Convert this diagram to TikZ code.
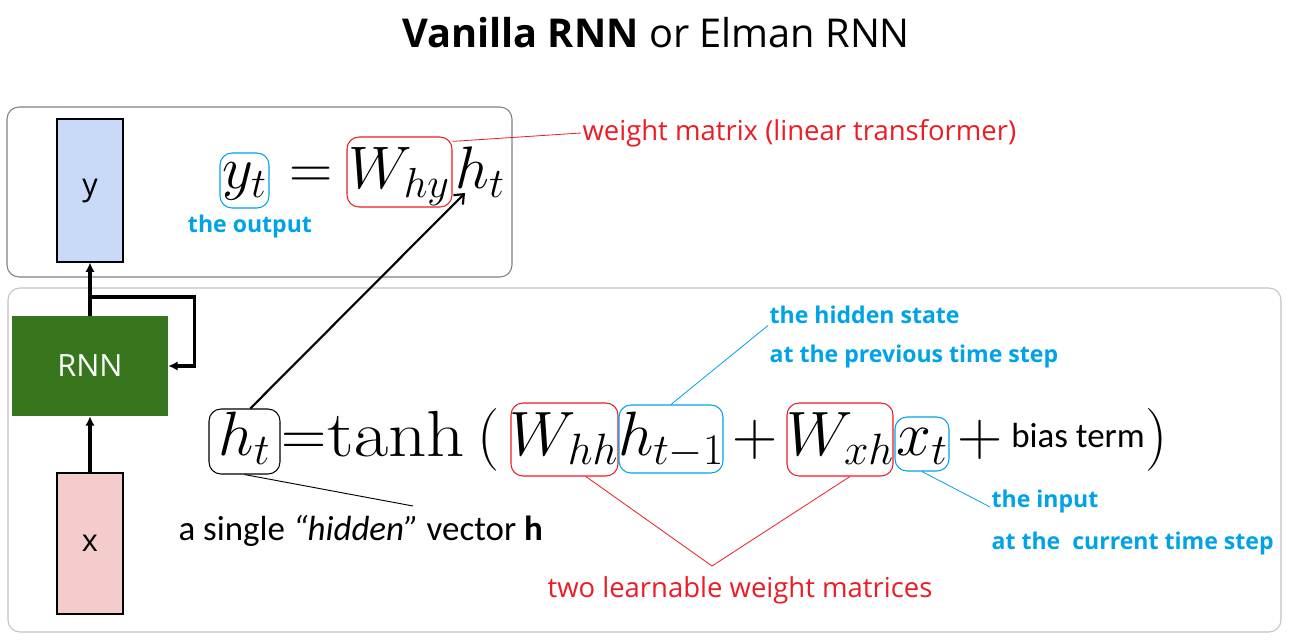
\RequirePackage{fix-cm}
\documentclass[tikz,border=0pt]{standalone}
\usepackage[no-math]{fontspec}
\setmainfont{Open Sans}
\newfontfamily\calib{Carlito}
\usetikzlibrary{fit,arrows.meta}
\definecolor{cblue}{RGB}{0,162,232}
\definecolor{cred}{RGB}{237,28,36}
\definecolor{rnngreen}{RGB}{56,118,29}
\definecolor{yfill}{RGB}{201,218,248}
\definecolor{xfill}{RGB}{244,204,204}
\definecolor{paneldark}{RGB}{128,128,128}
\definecolor{panellight}{RGB}{195,195,195}
\begin{document}
\begin{tikzpicture}[x=0.75pt,y=-0.75pt,
  panel/.style={inner sep=0pt, rounded corners=9pt, line width=0.8pt},
  block/.style={inner sep=0pt},
  blocklab/.style={inner sep=0pt, font=\fontsize{23}{27}\selectfont},
  hbox/.style={inner sep=0pt, rounded corners=9pt, line width=0.8pt},
  mtop/.style={inner sep=0pt, anchor=base, font=\fontsize{45}{54}\selectfont},
  mbot/.style={inner sep=0pt, anchor=base, font=\fontsize{47}{56}\selectfont},
  bluelab/.style={inner sep=1pt, text=cblue, font=\fontsize{17.3}{20}\selectfont\bfseries},
  redlab/.style={inner sep=1pt, text=cred, font=\fontsize{20.6}{24}\selectfont},
  thickarrow/.style={line width=2.3pt, -{Latex[length=7pt,width=7pt]}},
  redline/.style={draw=cred, line width=0.6pt},
  blueline/.style={draw=cblue, line width=0.6pt},
  blackline/.style={draw=black, line width=0.7pt}]
\useasboundingbox (0,0) rectangle (1289,640);
\fill[white] (0,0) rectangle (1289,640);

% title
\node[font=\fontsize{29.8}{34}\selectfont] (title) at (656,33) {\textbf{Vanilla RNN} or Elman RNN};

% panels
\node[panel, draw=paneldark, fit={(7,107) (512,277)}] (toppanel) {};
\node[panel, draw=panellight, fit={(8,288) (1281,632)}] (botpanel) {};

% blocks
\node[block, draw=black, line width=0.8pt, fill=yfill, fit={(57,119) (123,262)}] (ybox) {};
\node[block, fill=rnngreen, fit={(12,316) (168,416)}] (rnn) {};
\node[block, draw=black, line width=0.8pt, fill=xfill, fit={(57,473) (123,614)}] (xbox) {};
\node[blocklab] (ylab) at (ybox.center) {y};
\node[blocklab, text=white] (rnnlab) at (rnn.center) {RNN};
\node[blocklab] (xlab) at (xbox.center) {x};

\draw[thickarrow] (xbox.north) -- (rnn.south);
\draw[thickarrow] (rnn.north) -- (ybox.south);
\coordinate (branch) at (90,297);
\draw[thickarrow] (branch) -- ++(104.5,0) |- (rnn.east);

% top equation
\node[hbox, draw=cblue, fit={(220,153) (269,208)}] (Byt) {};
\node[hbox, draw=cred, fit={(347,137) (452,207)}] (Bhy) {};
\node[mtop] (yt) at (244.5,188) {$y_t$};
\node[mtop] (eqtop) at (311,188) {$=$};
\node[mtop] (Why) at (399,188) {$W_{hy}$};
\node[mtop, anchor=base west] (httop) at (455,188) {$h_t$};
\node[bluelab] (out) at (250,227) {the output};
\node[redlab, anchor=west] (wm) at (581,133) {weight matrix (linear transformer)};
\draw[redline] (Bhy.30) -- (wm.west);

% bottom equation
\node[hbox, draw=black, fit={(209,409) (280,474)}] (Bht) {};
\node[hbox, draw=cred, fit={(511,403) (618,476)}] (Bhh) {};
\node[hbox, draw=cblue, fit={(619,405) (723,473)}] (Bhm1) {};
\node[hbox, draw=cred, fit={(787,403) (893,476)}] (Bxh) {};
\node[hbox, draw=cblue, fit={(895,417) (949,471)}] (Bxt) {};

\node[mbot] (ht) at (244.5,455) {$h_t$};
\node[mbot] (eqbot) at (304,455) {$=$};
\node[mbot, anchor=base west] (tanh) at (327,456) {\scalebox{1.2}[1.04]{$\tanh$}};
\node[mbot] (lpar) at (489,455) {$($};
\node[mbot] (Whh) at (564,455) {$W_{hh}$};
\node[mbot] (hm1) at (671,455) {$h_{t-1}$};
\node[mbot] (plusA) at (755,455) {$+$};
\node[mbot] (Wxh) at (840,455) {$W_{xh}$};
\node[mbot] (xt) at (922,455) {$x_t$};
\node[mbot] (plusB) at (980,455) {$+$};
\node[inner sep=0pt, anchor=base west, font=\calib\fontsize{26.2}{30}\selectfont] (bias) at (1011,447) {bias term};
\node[mbot] (rpar) at (1157,455) {$)$};

% diagonal arrow
\coordinate (tip) at (465,193);
\draw[line width=1.6pt, -{Straight Barb[length=6pt,width=10pt]}] (Bht.80) -- (tip);

% annotations bottom
\node[inner sep=1pt, anchor=west, font=\calib\fontsize{26.2}{30}\selectfont] (hv) at (177,531) {a single \textit{“hidden”} vector \textbf{h}};
\coordinate (hvend) at (413,506);
\draw[blackline] (Bht.south) -- (hvend);

\node[bluelab, anchor=west] (hid) at (768,315) {the hidden state};
\node[bluelab, anchor=west] (hid2) at (768,357) {at the previous time step};
\draw[blueline] (Bhm1.north) -- (hid.south west);

\node[bluelab, anchor=west] (inp) at (990,501) {the input};
\node[bluelab, anchor=west] (inp2) at (990,543) {at the\ \ current time step};
\draw[blueline] (Bxt.south) -- (inp.base west);

\node[redlab] (two) at (740,590) {two learnable weight matrices};
\coordinate (apex) at (712,566);
\draw[redline] (Bhh.-60) -- (apex) -- (Bxh.-75);
\end{tikzpicture}
\end{document}
